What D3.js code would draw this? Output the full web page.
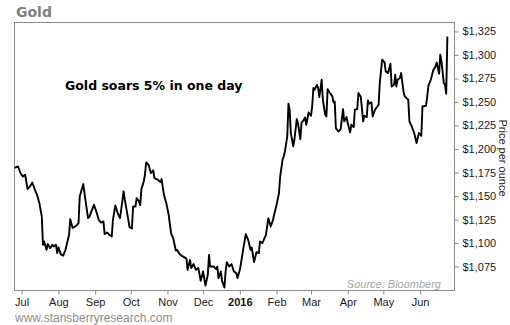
<!DOCTYPE html>
<html>
<head>
<meta charset="utf-8">
<script src="https://cdn.jsdelivr.net/npm/d3@7"></script>
<style>
  html, body { margin: 0; padding: 0; background: #fff; }
  svg { display: block; }
  text { font-family: "Liberation Sans", Arial, sans-serif; }
</style>
</head>
<body>
<svg id="chart" width="510" height="325"></svg>
<script>
// Daily gold price, late June 2015 – June 24, 2016 (USD per ounce)
const dates = [
  "2015-06-25","2015-06-28","2015-06-30",
  "2015-07-02","2015-07-04","2015-07-06","2015-07-08","2015-07-10","2015-07-12","2015-07-14","2015-07-16","2015-07-18","2015-07-19","2015-07-20","2015-07-22","2015-07-23","2015-07-25","2015-07-27","2015-07-28","2015-07-30","2015-07-31",
  "2015-08-01","2015-08-03","2015-08-05","2015-08-07","2015-08-09","2015-08-10","2015-08-11","2015-08-13","2015-08-16","2015-08-18","2015-08-19","2015-08-22","2015-08-23","2015-08-26","2015-08-27","2015-08-31",
  "2015-09-02","2015-09-04","2015-09-06","2015-09-08","2015-09-09","2015-09-11","2015-09-13","2015-09-15","2015-09-16","2015-09-18","2015-09-20","2015-09-22","2015-09-25","2015-09-26","2015-09-28","2015-09-30",
  "2015-10-02","2015-10-03","2015-10-05","2015-10-06","2015-10-08","2015-10-09","2015-10-10","2015-10-12","2015-10-13","2015-10-14","2015-10-16","2015-10-18","2015-10-20","2015-10-21","2015-10-24","2015-10-26","2015-10-27","2015-10-29","2015-10-31",
  "2015-11-02","2015-11-04","2015-11-06","2015-11-08","2015-11-09","2015-11-11","2015-11-13","2015-11-15","2015-11-17","2015-11-18","2015-11-20","2015-11-21","2015-11-23","2015-11-25","2015-11-27","2015-11-29",
  "2015-12-01","2015-12-03","2015-12-05","2015-12-06","2015-12-07","2015-12-10","2015-12-12","2015-12-13","2015-12-14","2015-12-16","2015-12-17","2015-12-19","2015-12-20","2015-12-21","2015-12-23","2015-12-25","2015-12-27","2015-12-29","2015-12-30",
  "2016-01-01","2016-01-02","2016-01-04","2016-01-06","2016-01-08","2016-01-10","2016-01-11","2016-01-13","2016-01-15","2016-01-17","2016-01-18","2016-01-20","2016-01-23","2016-01-25","2016-01-27","2016-01-29","2016-01-30",
  "2016-02-01","2016-02-03","2016-02-04","2016-02-06","2016-02-07","2016-02-08","2016-02-10","2016-02-11","2016-02-12","2016-02-13","2016-02-15","2016-02-16","2016-02-18","2016-02-19","2016-02-21","2016-02-22","2016-02-24","2016-02-25","2016-02-26","2016-02-28",
  "2016-03-01","2016-03-02","2016-03-03","2016-03-04","2016-03-06","2016-03-07","2016-03-08","2016-03-10","2016-03-11","2016-03-13","2016-03-14","2016-03-15","2016-03-17","2016-03-19","2016-03-20","2016-03-21","2016-03-22","2016-03-24","2016-03-26","2016-03-28","2016-03-29","2016-03-31",
  "2016-04-01","2016-04-03","2016-04-04","2016-04-06","2016-04-07","2016-04-09","2016-04-10","2016-04-12","2016-04-14","2016-04-15","2016-04-17","2016-04-18","2016-04-19","2016-04-21","2016-04-22","2016-04-24","2016-04-27","2016-04-28","2016-04-30",
  "2016-05-02","2016-05-03","2016-05-05","2016-05-07","2016-05-08","2016-05-10","2016-05-11","2016-05-12","2016-05-13","2016-05-15","2016-05-16","2016-05-18","2016-05-19","2016-05-22","2016-05-23","2016-05-25","2016-05-27","2016-05-29","2016-05-31",
  "2016-06-02","2016-06-03","2016-06-06","2016-06-07","2016-06-08","2016-06-10","2016-06-12","2016-06-14","2016-06-15","2016-06-17","2016-06-18","2016-06-19","2016-06-21","2016-06-22","2016-06-23","2016-06-24"
];

const prices = [
  1180.0,1181.4,1174.4,
  1170.7,1172.6,1157.3,1160.1,1164.4,1157.3,1151.3,1142.4,1128.2,1098.1,1101.6,1092.8,1099.1,1094.6,1098.1,1096.3,1098.1,1089.3,
  1095.6,1088.2,1086.4,1092.8,1103.4,1108.7,1125.4,1115.9,1118.3,1121.2,1149.5,1162.7,1153.1,1126.5,1127.6,1140.6,
  1133.5,1124.7,1121.8,1122.9,1109.5,1111.2,1108.7,1106.9,1124.7,1139.9,1131.8,1126.5,1154.8,1146.0,1131.8,1116.9,
  1115.4,1138.8,1138.8,1147.8,1144.1,1140.3,1157.3,1165.4,1172.6,1185.6,1183.2,1174.4,1177.1,1169.0,1167.2,1164.8,1168.0,1151.3,1142.4,
  1130.0,1110.5,1104.1,1092.0,1092.8,1088.5,1086.4,1085.0,1083.2,1071.5,1082.1,1073.3,1077.6,1071.5,1073.3,1059.8,
  1069.7,1054.8,1066.2,1087.4,1075.0,1075.0,1072.2,1075.0,1062.7,1069.7,1059.8,1052.7,1069.7,1079.7,1075.0,1077.6,1069.7,1068.0,1062.7,
  1071.5,1078.6,1094.6,1109.5,1103.4,1092.8,1095.2,1079.7,1090.3,1089.3,1101.6,1099.9,1108.7,1126.5,1117.6,1124.7,1130.7,
  1140.6,1153.1,1170.7,1188.5,1192.0,1197.3,1213.3,1248.1,1241.7,1216.9,1202.7,1209.8,1231.8,1227.6,1210.5,1227.6,1231.1,1233.5,1225.7,1238.8,
  1235.3,1245.2,1264.8,1263.0,1268.3,1264.8,1255.2,1273.6,1252.3,1236.4,1234.6,1263.7,1259.5,1255.9,1249.5,1250.5,1222.2,1218.6,1221.2,1242.4,1229.3,1233.9,
  1227.6,1217.6,1225.7,1223.3,1241.7,1242.4,1259.5,1255.2,1229.3,1235.3,1233.9,1251.6,1248.1,1249.5,1234.6,1241.7,1247.0,1270.1,1294.9,
  1292.0,1282.4,1280.7,1290.6,1266.5,1268.3,1278.9,1266.5,1273.6,1275.4,1280.7,1261.2,1255.9,1252.3,1229.3,1223.9,1216.9,1206.3,1216.9,
  1214.0,1245.2,1246.0,1255.9,1267.2,1273.6,1283.5,1287.8,1292.0,1280.0,1300.2,1293.1,1270.1,1268.3,1258.7,1319.7
];

// Axis ticks
const priceTicks = [1075, 1100, 1125, 1150, 1175, 1200, 1225, 1250, 1275, 1300, 1325];
const monthTicks = ["2015-07-01","2015-08-01","2015-09-01","2015-10-01","2015-11-01","2015-12-01",
                    "2016-01-01","2016-02-01","2016-03-01","2016-04-01","2016-05-01","2016-06-01"];

const parse = d3.timeParse("%Y-%m-%d");
const series = dates.map((d, i) => ({ date: parse(d), price: prices[i] }));

const plot = { left: 14.5, right: 454.5, top: 22.5, bottom: 290.5 };

const x = d3.scaleTime()
  .domain([parse("2015-06-25"), parse("2016-06-30")])
  .range([plot.left, plot.right]);

const y = d3.scaleLinear()
  .domain([1049.5, 1334.5])
  .range([plot.bottom, plot.top]);

const svg = d3.select("#chart");

// Title
svg.append("text")
  .attr("x", 16).attr("y", 16.5)
  .style("font-family", "Verdana, 'DejaVu Sans', sans-serif")
  .style("font-weight", "bold")
  .style("font-size", "14px")
  .attr("fill", "#7f7f7f")
  .text("Gold");

// Plot frame
svg.append("rect")
  .attr("x", plot.left).attr("y", plot.top)
  .attr("width", plot.right - plot.left)
  .attr("height", plot.bottom - plot.top)
  .attr("fill", "none")
  .attr("stroke", "#8a8a8a")
  .attr("stroke-width", 1);

// Price axis (right)
const yAxis = d3.axisRight(y)
  .tickValues(priceTicks)
  .tickSize(4)
  .tickPadding(4)
  .tickFormat(d => "$" + d3.format(",")(d));

const gy = svg.append("g")
  .attr("transform", `translate(${plot.right},0)`)
  .call(yAxis);
gy.select(".domain").remove();
gy.selectAll(".tick line").attr("stroke", "#8a8a8a");
gy.selectAll(".tick text")
  .style("font-family", "'Liberation Sans', Arial, sans-serif")
  .style("font-size", "11px")
  .attr("fill", "#1a1a1a");

// Month axis (bottom)
const xAxis = d3.axisBottom(x)
  .tickValues(monthTicks.map(parse))
  .tickSize(4)
  .tickFormat(d => d.getMonth() === 0 ? d3.timeFormat("%Y")(d) : d3.timeFormat("%b")(d));

const gx = svg.append("g")
  .attr("transform", `translate(0,${plot.bottom})`)
  .call(xAxis);
gx.select(".domain").remove();
gx.selectAll(".tick line").attr("stroke", "#8a8a8a");
gx.selectAll(".tick text")
  .attr("y", 15).attr("dy", 0)
  .style("font-family", "'Liberation Sans', Arial, sans-serif")
  .style("font-size", "11px")
  .style("font-weight", d => d.getMonth() === 0 ? "bold" : "normal")
  .attr("fill", "#1a1a1a");

// Axis title
svg.append("text")
  .attr("transform", "translate(499,158) rotate(90)")
  .attr("text-anchor", "middle")
  .style("font-size", "11px")
  .attr("fill", "#1a1a1a")
  .text("Price per ounce");

// Price line
const line = d3.line()
  .x(d => x(d.date))
  .y(d => y(d.price));

svg.append("path")
  .datum(series)
  .attr("d", line)
  .attr("fill", "none")
  .attr("stroke", "#000")
  .attr("stroke-width", 1.9)
  .attr("stroke-linejoin", "round");

// Annotation
svg.append("text")
  .attr("x", 65).attr("y", 90)
  .style("font-family", "Verdana, 'DejaVu Sans', sans-serif")
  .style("font-weight", "bold")
  .style("font-size", "12.5px")
  .attr("fill", "#000")
  .text("Gold soars 5% in one day");

// Source note
svg.append("text")
  .attr("x", 441).attr("y", 288)
  .attr("text-anchor", "end")
  .style("font-size", "11px")
  .style("font-style", "italic")
  .attr("fill", "#a6a6a6")
  .text("Source: Bloomberg");

// Footer
svg.append("text")
  .attr("x", 15).attr("y", 322)
  .style("font-size", "12px")
  .attr("fill", "#8c8c8c")
  .text("www.stansberryresearch.com");
</script>
</body>
</html>
